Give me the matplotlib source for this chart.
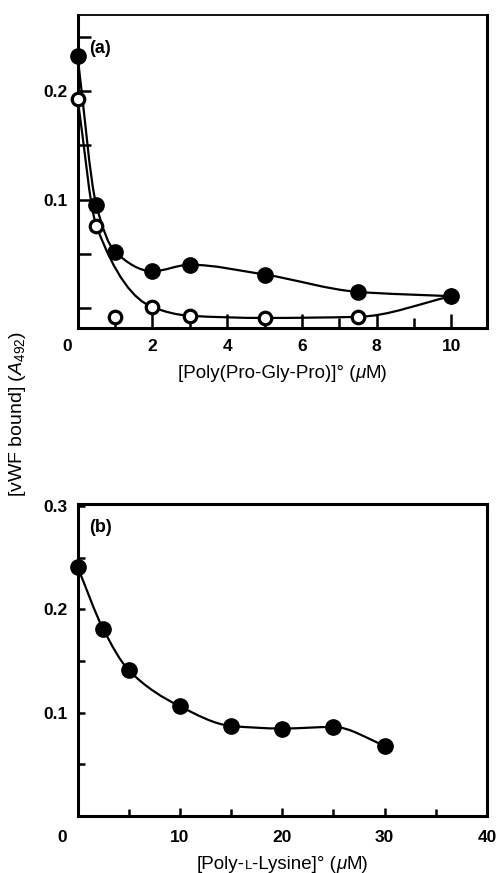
import numpy as np
import matplotlib.pyplot as plt
from matplotlib.path import Path
from matplotlib.patches import PathPatch
from matplotlib.offsetbox import TextArea, HPacker, AnchoredOffsetbox

plt.rcParams['font.family'] = ['Liberation Sans', 'DejaVu Sans']
plt.rcParams['mathtext.fontset'] = 'custom'
plt.rcParams['mathtext.rm'] = 'Liberation Sans'
plt.rcParams['mathtext.it'] = 'Liberation Sans:italic'

# (a) vWF bound vs poly(Pro-Gly-Pro)
ppg_x = [0, 0.5, 1, 2, 3, 5, 7.5, 10]
ppg_filled = [0.232, 0.095, 0.052, 0.034, 0.040, 0.031, 0.015, 0.011]
ppg_open = [0.193, 0.076, -0.008, 0.001, -0.007, -0.009, -0.008, 0.011]
ppg_open_fit = [True, True, False, True, True, True, True, True]  # point at 1 uM left out of the curve

# (b) vWF bound vs poly-L-lysine
pll_x = [0, 2.5, 5, 10, 15, 20, 25, 30]
pll_y = [0.241, 0.181, 0.141, 0.106, 0.087, 0.0845, 0.086, 0.068]

TICK_FS = 12.5
LABEL_FS = 13.5


def smooth_path(x, y):
    # monotone cubic (pchip) through the points, as a bezier path
    x = np.asarray(x, float)
    y = np.asarray(y, float)
    h = np.diff(x)
    d = np.diff(y) / h
    m = np.zeros_like(y)
    m[0] = d[0]
    m[-1] = d[-1]
    for k in range(1, len(x) - 1):
        if d[k - 1] * d[k] > 0:
            w1 = 2 * h[k] + h[k - 1]
            w2 = h[k] + 2 * h[k - 1]
            m[k] = (w1 + w2) / (w1 / d[k - 1] + w2 / d[k])
    verts = [(x[0], y[0])]
    codes = [Path.MOVETO]
    for k in range(len(h)):
        verts += [(x[k] + h[k] / 3, y[k] + m[k] * h[k] / 3),
                  (x[k + 1] - h[k] / 3, y[k + 1] - m[k + 1] * h[k] / 3),
                  (x[k + 1], y[k + 1])]
        codes += [Path.CURVE4] * 3
    return Path(verts, codes)


def curve(ax, x, y):
    ax.add_patch(PathPatch(smooth_path(x, y), fill=False, lw=1.6, ec='black', zorder=2))


def xlabel(fig, ax, parts, ypos):
    boxes = []
    for s, kw in parts:
        props = dict(fontsize=LABEL_FS, color='black')
        props.update(kw)
        boxes.append(TextArea(s, textprops=props))
    pack = HPacker(children=boxes, align='baseline', pad=0, sep=0)
    box = AnchoredOffsetbox(loc='center', child=pack, pad=0, borderpad=0, frameon=False,
                            bbox_to_anchor=(0.5, ypos), bbox_transform=ax.transAxes)
    ax.add_artist(box)


def style(ax, xlen, ylen):
    for sp in ax.spines.values():
        sp.set_linewidth(2.2)
    ax.tick_params(which='both', direction='in', width=1.8, labelsize=TICK_FS)
    ax.tick_params(axis='x', which='major', length=xlen[0], pad=8)
    ax.tick_params(axis='x', which='minor', length=xlen[1])
    ax.tick_params(axis='y', which='both', length=ylen, pad=7)
    for lab in ax.get_xticklabels() + ax.get_yticklabels():
        lab.set_fontweight('bold')


fig = plt.figure(figsize=(4.98, 8.73), dpi=100)

# ---- panel (a)
ax1 = fig.add_axes([0.1558, 0.6246, 0.822, 0.3582])
ax1.set_xlim(0, 10.95)
ax1.set_ylim(-0.018, 0.27)
ax1.set_xticks([0, 2, 4, 6, 8, 10], ['', '2', '4', '6', '8', '10'])
ax1.set_xticks([1, 3, 5, 7, 9], minor=True)
ax1.set_yticks([0.1, 0.2], ['0.1', '0.2'])
ax1.set_yticks([0, 0.05, 0.15, 0.25], minor=True)
style(ax1, (10, 7), 9)
ax1.spines['top'].set_linewidth(1.3)

curve(ax1, ppg_x, ppg_filled)
ox = [x for x, f in zip(ppg_x, ppg_open_fit) if f]
oy = [y for y, f in zip(ppg_open, ppg_open_fit) if f]
curve(ax1, ox, oy)
ax1.plot(ppg_x, ppg_open, 'o', ms=9, mfc='white', mec='black', mew=2.3, zorder=3, clip_on=False)
ax1.plot(ppg_x, ppg_filled, 'o', ms=11, mfc='black', mec='black', zorder=4, clip_on=False)
ax1.annotate('0', xy=(0, 0), xycoords=('data', 'axes fraction'), xytext=(-7.5, -8),
             textcoords='offset points', ha='center', va='top', fontsize=TICK_FS, fontweight='bold')
ax1.text(0.028, 0.894, '(a)', transform=ax1.transAxes, fontsize=13, fontweight='bold', va='center')
xlabel(fig, ax1, [('[Poly(Pro-Gly-Pro)]° (', {}), ('μ', {'style': 'italic'}), ('M)', {})], -0.145)

# ---- panel (b)
ax2 = fig.add_axes([0.1558, 0.0656, 0.822, 0.3571])
ax2.set_xlim(0, 40)
ax2.set_ylim(0, 0.302)
ax2.set_xticks([0, 10, 20, 30, 40], ['', '10', '20', '30', '40'])
ax2.set_xticks([5, 15, 25, 35], minor=True)
ax2.set_yticks([0.1, 0.2, 0.3], ['0.1', '0.2', '0.3'])
ax2.set_yticks([0.05, 0.15, 0.25], minor=True)
style(ax2, (6, 5), 5)
ax2.tick_params(axis='x', which='major', pad=10)

curve(ax2, pll_x, pll_y)
ax2.plot(pll_x, pll_y, 'o', ms=11, mfc='black', mec='black', zorder=4, clip_on=False)
ax2.annotate('0', xy=(0, 0), xycoords=('data', 'axes fraction'), xytext=(-11, -10),
             textcoords='offset points', ha='center', va='top', fontsize=TICK_FS, fontweight='bold')
ax2.text(0.028, 0.926, '(b)', transform=ax2.transAxes, fontsize=13, fontweight='bold', va='center')
xlabel(fig, ax2, [('[Poly-', {}), ('L', {'fontsize': 9.5}), ('-Lysine]° (', {}),
                  ('μ', {'style': 'italic'}), ('M)', {})], -0.155)

fig.text(17 / 498, 1 - 414 / 873, r'[vWF bound] ($\mathit{A}_{\mathit{492}}$)', rotation=90,
         ha='center', va='center', fontsize=14)

fig.savefig('out.png', dpi=100)
